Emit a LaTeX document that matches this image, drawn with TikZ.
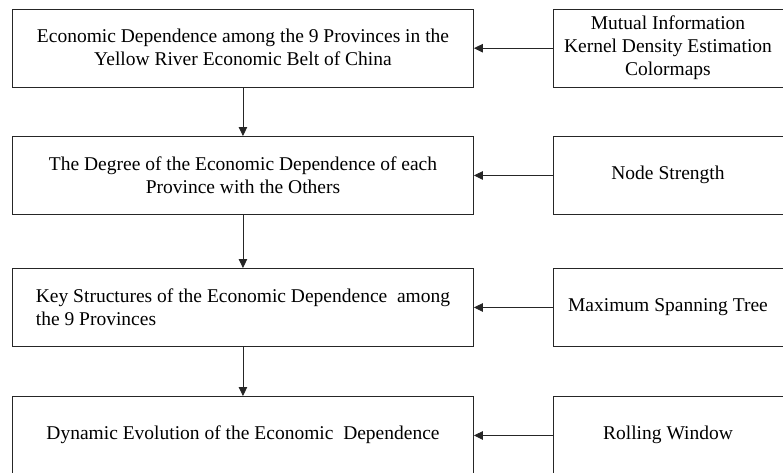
\documentclass[tikz,border=0pt]{standalone}
\usepackage{fontspec}
\setmainfont{Liberation Serif}
\usetikzlibrary{arrows.meta}
\begin{document}
\begin{tikzpicture}[x=1pt,y=-1pt,
  box/.style={draw=black!85,line width=0.9pt,inner sep=0pt,anchor=north west},
  lbl/.style={font=\fontsize{19.5}{23}\selectfont,align=center,inner sep=0pt},
  arr/.style={draw=black!85,line width=0.9pt,-{Triangle[length=9pt,width=8.5pt]}}]
\useasboundingbox (0,0) rectangle (783,472);
% left boxes
\node[box,minimum width=461pt,minimum height=78.5pt] (L1) at (12,8.5) {};
\node[box,minimum width=461pt,minimum height=78pt] (L2) at (12,136) {};
\node[box,minimum width=461pt,minimum height=78pt] (L3) at (12,268) {};
\node[box,minimum width=461pt,minimum height=78pt] (L4) at (12,396) {};
% right boxes
\node[box,minimum width=232pt,minimum height=78.5pt] (R1) at (553,8.5) {};
\node[box,minimum width=232pt,minimum height=78pt] (R2) at (553,136) {};
\node[box,minimum width=232pt,minimum height=78pt] (R3) at (553,268) {};
\node[box,minimum width=232pt,minimum height=78pt] (R4) at (553,396) {};
% texts
\node[lbl] (t1) at (243,47.5) {Economic Dependence among the 9 Provinces in the\\Yellow River Economic Belt of China};
\node[lbl] (t2) at (243,175) {The Degree of the Economic Dependence of each\\Province with the Others};
\node[lbl,align=left] (t3) at (243,307) {Key Structures of the Economic Dependence\ \ among\\the 9 Provinces};
\node[lbl] (t4) at (243,435) {Dynamic Evolution of the Economic\ \ Dependence};
\node[lbl] (s1) at (668,47.5) {Mutual Information\\Kernel Density Estimation\\Colormaps};
\node[lbl] (s2) at (668,175) {Node Strength};
\node[lbl] (s3) at (668,307) {Maximum Spanning Tree};
\node[lbl] (s4) at (668,435) {Rolling Window};
% connectors
\draw[arr] (R1.west) -- (L1.east);
\draw[arr] (R2.west) -- (L2.east);
\draw[arr] (R3.west) -- (L3.east);
\draw[arr] (R4.west) -- (L4.east);
\draw[arr] (L1.south) -- (L2.north);
\draw[arr] (L2.south) -- (L3.north);
\draw[arr] (L3.south) -- (L4.north);
\end{tikzpicture}
\end{document}
